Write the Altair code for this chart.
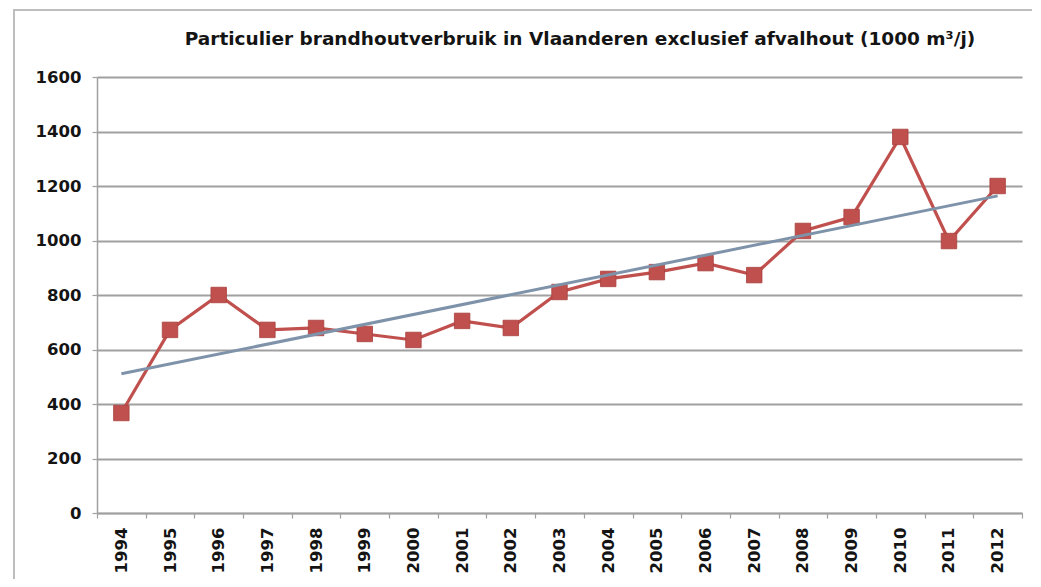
import altair as alt
import pandas as pd

years = [1994, 1995, 1996, 1997, 1998, 1999, 2000, 2001, 2002, 2003,
         2004, 2005, 2006, 2007, 2008, 2009, 2010, 2011, 2012]
values = [367, 672, 800, 672, 679, 657, 635, 705, 679, 811,
          859, 884, 917, 873, 1035, 1086, 1380, 998, 1200]
y_ticks = [0, 200, 400, 600, 800, 1000, 1200, 1400, 1600]
title_text = "Particulier brandhoutverbruik in Vlaanderen exclusief afvalhout (1000 m³/j)"

df = pd.DataFrame({"year": years, "value": values})

FONT = "DejaVu Sans"
RED = "#c0504d"
TREND = "#7e93a9"
GRID = "#a0a0a0"

x_enc = alt.X("year:O", title=None,
              scale=alt.Scale(paddingInner=0, paddingOuter=0),
              axis=alt.Axis(labelAngle=-90, labelFont=FONT, labelFontSize=16.5,
                            labelFontWeight="bold", labelColor="#141414",
                            labelPadding=9, tickBand="extent", tickSize=5,
                            tickColor=GRID, domainColor=GRID, domainWidth=1.5,
                            tickWidth=1.2, grid=False))
y_enc = alt.Y("value:Q", title=None,
              scale=alt.Scale(domain=[0, 1600], nice=False),
              axis=alt.Axis(values=y_ticks, format="d", labelFont=FONT, labelFontSize=16.5,
                            labelFontWeight="bold", labelColor="#141414",
                            labelPadding=11, tickSize=5, tickColor=GRID,
                            domainColor=GRID, domainWidth=1.5, tickWidth=1.2,
                            grid=True, gridColor=GRID, gridWidth=1.8))

base = alt.Chart(df)

frame = base.mark_rect(fill=None, stroke="#bdbdbd", strokeWidth=1.5, clip=False).encode(
    x=alt.value(-83), x2=alt.value(941), y=alt.value(-67), y2=alt.value(560)
)

title = alt.Chart(pd.DataFrame({"t": [title_text]})).mark_text(
    font=FONT, fontSize=18.5, fontWeight="bold", color="#141414",
    align="center", baseline="middle"
).encode(text="t:N", x=alt.value(483), y=alt.value(-38))

line = base.mark_line(color=RED, strokeWidth=3.2).encode(x=x_enc, y=y_enc)
points = base.mark_square(color=RED, size=240, opacity=1,
                          stroke="#a8403d", strokeWidth=0.8).encode(x=x_enc, y=y_enc)
trend = base.transform_regression("year", "value").mark_line(
    color=TREND, strokeWidth=3).encode(x=alt.X("year:O"), y=alt.Y("value:Q"))

chart = alt.layer(frame, title, line, points, trend).properties(
    width=925, height=436,
    autosize=alt.AutoSizeParams(type="none"),
    padding={"left": 89, "top": 69, "right": 10, "bottom": 66},
).configure_view(stroke=None)

chart.save("out.html", embed_options={"renderer": "svg", "actions": False})
